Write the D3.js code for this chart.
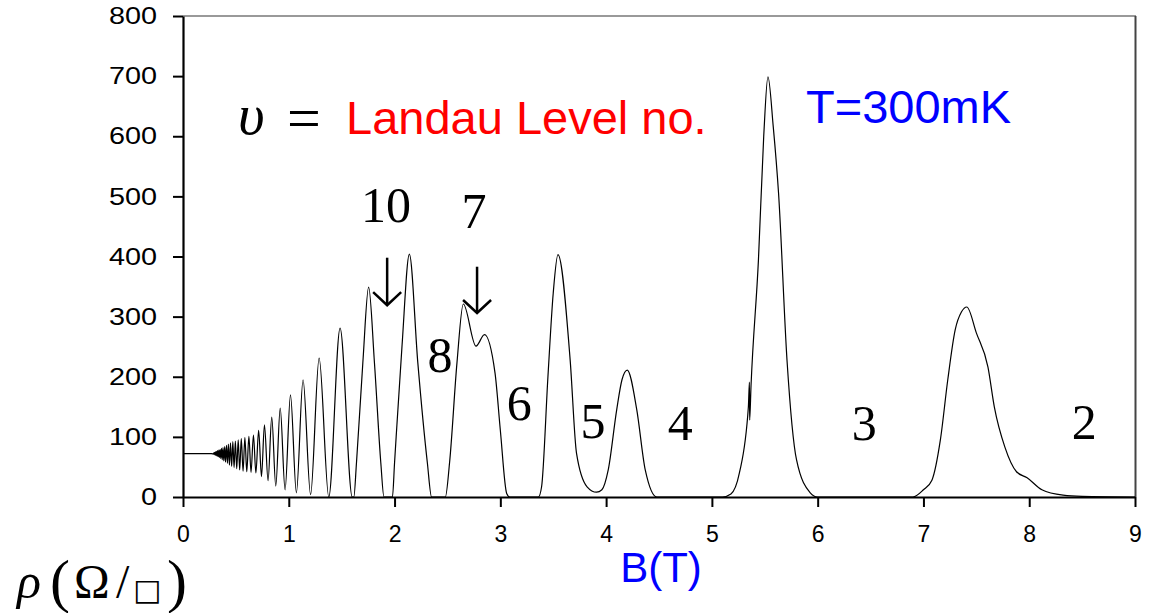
<!DOCTYPE html>
<html>
<head>
<meta charset="utf-8">
<script src="https://cdn.jsdelivr.net/npm/d3@7"></script>
<style>
  body { margin: 0; background: #fff; }
  svg { display: block; }
</style>
</head>
<body>
<svg id="chart" width="1152" height="613"></svg>
<script>
// magnetic field (T) and resistivity (ohm/sq)
const fieldB = [
  0, 0.27, 0.283, 0.288, 0.292, 0.297, 0.302, 0.306, 0.311, 0.316, 0.322, 0.327,
  0.333, 0.339, 0.345, 0.351, 0.357, 0.364, 0.371, 0.378, 0.386, 0.394, 0.402,
  0.411, 0.420, 0.429, 0.439, 0.449, 0.460, 0.471, 0.483, 0.495, 0.508, 0.522,
  0.536, 0.551, 0.568, 0.585, 0.603, 0.623, 0.643, 0.666, 0.689, 0.715, 0.742,
  0.770, 0.804, 0.839, 0.877, 0.919, 0.965, 1.016, 1.072, 1.135, 1.206, 1.287,
  1.378, 1.485, 1.600, 1.615, 1.64, 1.70, 1.755, 1.81, 1.87, 1.90, 1.98,
  2.00, 2.07, 2.14, 2.22, 2.31, 2.35, 2.48, 2.52, 2.59, 2.65, 2.77, 2.85,
  2.95, 3.00, 3.06, 3.09, 3.36, 3.39, 3.45, 3.50, 3.545, 3.66, 3.72, 3.82,
  3.91, 3.96, 4.02, 4.10, 4.15, 4.20, 4.29, 4.37, 4.48, 5.10, 5.18, 5.26,
  5.345, 5.355, 5.357, 5.37, 5.44, 5.49, 5.53, 5.58, 5.63, 5.71, 5.80, 5.93,
  6.00, 6.90, 7.00, 7.08, 7.16, 7.23, 7.30, 7.36, 7.41, 7.50, 7.61, 7.67,
  7.77, 7.88, 7.98, 8.12, 8.32, 8.50, 9.00
];
const resistivity = [
  72, 72, 71.5, 73, 71, 74, 70, 75, 69, 76, 68, 77,
  67, 78, 66, 79, 64, 81, 62, 82, 60, 84, 58,
  86, 56, 88, 53, 90, 51, 92, 49, 93, 47, 95,
  45, 97, 43, 99, 42, 101, 41, 103, 40, 111, 34,
  120, 27, 133, 18, 148, 12, 170, 7, 195, 4, 231,
  0, 281, 0, 0, 57, 223, 349, 223, 57, 0, 0,
  57, 250, 404, 223, 57, 0, 0, 57, 223, 321, 251, 270,
  206, 111, 6, 0, 0, 17, 200, 339, 403, 228, 73, 17,
  8, 12, 45, 145, 195, 211, 145, 45, 0, 0, 5, 40,
  150, 191, 128, 185, 394, 600, 699, 616, 506, 228, 62, 7,
  0, 0, 12, 28, 95, 195, 278, 308, 316, 273, 216, 150,
  83, 42, 32, 12, 3, 1, 0
];

const xTicks = [0, 1, 2, 3, 4, 5, 6, 7, 8, 9];
const yTicks = [0, 100, 200, 300, 400, 500, 600, 700, 800];

// filling-factor labels, anchored in data units (B, rho)
const levelText = ["10", "7", "8", "6", "5", "4", "3", "2"];
const levelB = [1.92, 2.75, 2.43, 3.18, 3.875, 4.70, 6.44, 8.52];
const levelRho = [457, 447, 208, 128, 98, 95, 95, 96];

// arrows at nu = 10 and nu = 7
const arrowB = [1.93, 2.78];
const arrowTop = [398, 383];
const arrowTip = [319, 306];

const svg = d3.select("#chart");

const x = d3.scaleLinear().domain([0, 9]).range([183, 1135]);
const y = d3.scaleLinear().domain([0, 800]).range([497, 16]);

// frame: top and right
svg.append("line")
  .attr("x1", 183).attr("x2", 1136)
  .attr("y1", y(800)).attr("y2", y(800))
  .attr("stroke", "#777").attr("stroke-width", 1.5);
svg.append("line")
  .attr("x1", 1135.5).attr("x2", 1135.5)
  .attr("y1", y(800)).attr("y2", y(0))
  .attr("stroke", "#444").attr("stroke-width", 2);

// axes
let yAxis = svg.append("g")
  .attr("transform", `translate(${x(0)},0)`)
  .call(d3.axisLeft(y).tickValues(yTicks).tickSize(10).tickSizeOuter(0));
yAxis.select(".domain").attr("stroke", "#000").attr("stroke-width", 2.2);
yAxis.selectAll(".tick line").attr("stroke-width", 2);
yAxis.selectAll(".tick text")
  .attr("x", null)
  .attr("transform", "translate(-26,0) scale(1.2,1)")
  .attr("font-family", "'Liberation Sans', Arial, sans-serif")
  .attr("font-size", 24)
  .attr("fill", "#000");

let xAxis = svg.append("g")
  .attr("transform", `translate(0,${y(0)})`)
  .call(d3.axisBottom(x).tickValues(xTicks).tickSize(10).tickSizeOuter(0).tickPadding(19));
xAxis.select(".domain").attr("stroke", "#000").attr("stroke-width", 2.2);
xAxis.selectAll(".tick line").attr("stroke-width", 2);
xAxis.selectAll(".tick text")
  .attr("font-family", "'Liberation Sans', Arial, sans-serif")
  .attr("font-size", 23)
  .attr("fill", "#000");

// the trace
const pts = fieldB.map((b, i) => [b, resistivity[i]]);
const line = d3.line()
  .x(d => x(d[0]))
  .y(d => y(d[1]))
  .curve(d3.curveMonotoneX);

svg.append("path")
  .datum(pts)
  .attr("d", line)
  .attr("fill", "none")
  .attr("stroke", "#000")
  .attr("stroke-width", 1.2)
  .attr("stroke-linejoin", "round");

// level numbers
svg.selectAll("text.level")
  .data(levelText)
  .join("text")
  .attr("class", "level")
  .attr("x", (d, i) => x(levelB[i]))
  .attr("y", (d, i) => y(levelRho[i]))
  .attr("text-anchor", "middle")
  .attr("font-family", "'Liberation Serif', 'Times New Roman', serif")
  .attr("font-size", 50)
  .attr("fill", "#000")
  .text(d => d);

// arrows
arrowB.forEach((b, i) => {
  let ax = x(b), y0 = y(arrowTop[i]), y1 = y(arrowTip[i]);
  svg.append("line")
    .attr("x1", ax).attr("x2", ax)
    .attr("y1", y0).attr("y2", y1 - 1)
    .attr("stroke", "#000").attr("stroke-width", 2.5);
  svg.append("path")
    .attr("d", `M${ax - 14},${y1 - 13} L${ax},${y1} L${ax + 14},${y1 - 13}`)
    .attr("fill", "none")
    .attr("stroke", "#000").attr("stroke-width", 2.5);
});

// header annotations
const serif = "'Liberation Serif', 'Times New Roman', serif";
const sans = "'Liberation Sans', Arial, sans-serif";

svg.append("text")
  .attr("x", 238).attr("y", 134)
  .attr("font-family", serif).attr("font-style", "italic")
  .attr("font-size", 58)
  .text("υ");
svg.append("text")
  .attr("x", 287).attr("y", 138)
  .attr("font-family", serif)
  .attr("font-size", 60)
  .text("=");
svg.append("text")
  .attr("x", 346).attr("y", 134)
  .attr("font-family", sans)
  .attr("font-size", 47)
  .attr("fill", "#ff0000")
  .text("Landau Level no.");
svg.append("text")
  .attr("x", 806).attr("y", 123)
  .attr("font-family", sans)
  .attr("font-size", 47)
  .attr("fill", "#0000ff")
  .text("T=300mK");

// axis titles
svg.append("text")
  .attr("x", 661).attr("y", 582)
  .attr("text-anchor", "middle")
  .attr("font-family", sans)
  .attr("font-size", 42)
  .attr("fill", "#0000ff")
  .text("B(T)");

let rhoLabel = svg.append("g").attr("font-family", serif).attr("fill", "#000");
rhoLabel.append("text").attr("x", 17).attr("y", 598)
  .attr("font-style", "italic").attr("font-size", 50).text("ρ");
rhoLabel.append("text").attr("x", 50).attr("y", 601)
  .attr("font-size", 60).text("(");
rhoLabel.append("text").attr("x", 74).attr("y", 598)
  .attr("font-size", 48).text("Ω");
rhoLabel.append("text").attr("x", 116).attr("y", 598)
  .attr("font-size", 48).text("/");
rhoLabel.append("text").attr("x", 133).attr("y", 600)
  .attr("font-family", "'DejaVu Sans', sans-serif")
  .attr("font-size", 30).text("□");
rhoLabel.append("text").attr("x", 167).attr("y", 601)
  .attr("font-size", 60).text(")");
</script>
</body>
</html>
